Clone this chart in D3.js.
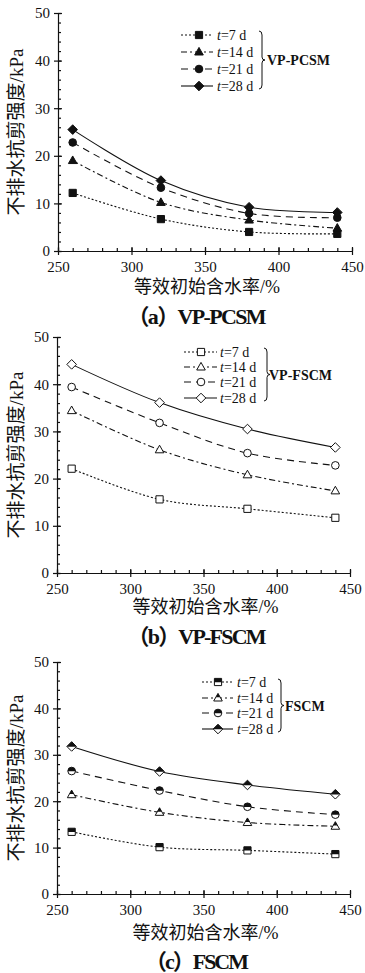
<!DOCTYPE html>
<html>
<head>
  <meta charset="utf-8">
  <title>Undrained shear strength vs water content</title>
  <style>
    body { margin: 0; background: #fff; }
    text { fill: #111; }
  </style>
</head>
<body>
  <div id="viz"></div>
  <script src="https://d3js.org/d3.v7.min.js"></script>
  <script>
    // equivalent initial water content (%)
    const waterContent = [260, 320, 380, 440];
    const ageLabels = ['7', '14', '21', '28'];
    const xTicks = [250, 300, 350, 400, 450];
    const yTicks = [0, 10, 20, 30, 40, 50];

    // (a) VP-PCSM, undrained shear strength kPa
    const pcsm7 = [12.2, 6.7, 4.0, 3.6];
    const pcsm14 = [19.0, 10.2, 6.5, 4.8];
    const pcsm21 = [22.8, 13.3, 7.9, 7.0];
    const pcsm28 = [25.5, 14.8, 9.2, 8.1];

    // (b) VP-FSCM
    const vfscm7 = [22.1, 15.6, 13.6, 11.7];
    const vfscm14 = [34.4, 26.1, 20.8, 17.4];
    const vfscm21 = [39.4, 31.8, 25.4, 22.8];
    const vfscm28 = [44.2, 36.1, 30.5, 26.6];

    // (c) FSCM
    const fscm7 = [13.4, 10.1, 9.4, 8.6];
    const fscm14 = [21.4, 17.6, 15.4, 14.6];
    const fscm21 = [26.5, 22.3, 18.8, 17.1];
    const fscm28 = [31.8, 26.4, 23.5, 21.5];

    const W = 365, H = 973;
    const serif = '"Liberation Serif", "DejaVu Serif", serif';
    const cjk = '"Liberation Serif", "Noto Sans CJK SC", sans-serif';

    const dashes = ['2,2', '6,3,2,3', '7,5', null];

    // marker outlines, centred on 0,0
    const shapes = [
      'M-3.6,-3.6H3.6V3.6H-3.6Z',
      'M0,-4.6L4.3,3H-4.3Z',
      d3.symbol().type(d3.symbolCircle).size(46)(),
      'M0,-4.8L4.8,0L0,4.8L-4.8,0Z'
    ];

    const svg = d3.select('#viz').append('svg')
      .attr('width', W).attr('height', H);

    svg.append('defs').append('clipPath')
      .attr('id', 'topHalf')
      .attr('clipPathUnits', 'objectBoundingBox')
      .append('rect').attr('x', -0.1).attr('y', -0.1).attr('width', 1.2).attr('height', 0.62);

    const panels = [
      { series: [pcsm7, pcsm14, pcsm21, pcsm28], fill: 'full', group: 'VP-PCSM', caption: '（a）VP-PCSM', capW: 139,
        x0: 58, x1: 352, y0: 13, y1: 251, titleY: 287, capY: 317,
        leg: { l0: 181, l1: 213, m: 199, t: 217, rows: [35, 52, 69, 86], bx: 259, by0: 31, by1: 89, gx: 267 } },
      { series: [vfscm7, vfscm14, vfscm21, vfscm28], fill: 'open', group: 'VP-FSCM', caption: '（b）VP-FSCM', capW: 139,
        x0: 57, x1: 350, y0: 337, y1: 573, titleY: 607, capY: 637,
        leg: { l0: 184, l1: 217, m: 201, t: 220, rows: [352, 367, 382, 398], bx: 264, by0: 348, by1: 401, gx: 269 } },
      { series: [fscm7, fscm14, fscm21, fscm28], fill: 'half', group: 'FSCM', caption: '（c）FSCM', capW: 104,
        x0: 57, x1: 350, y0: 662, y1: 894, titleY: 933, capY: 962,
        leg: { l0: 202, l1: 233, m: 218, t: 237, rows: [682, 698, 713, 729], bx: 278, by0: 679, by1: 732, gx: 285 } }
    ];

    function marker(g, i, fill, cx, cy) {
      const p = shapes[i];
      const m = g.append('g').attr('transform', `translate(${cx},${cy})`);
      if (fill === 'half') {
        m.append('path').attr('d', p).attr('fill', '#fff');
        m.append('path').attr('d', p).attr('fill', '#111').attr('clip-path', 'url(#topHalf)');
        m.append('path').attr('d', p).attr('fill', 'none').attr('stroke', '#111').attr('stroke-width', 1);
      } else {
        m.append('path').attr('d', p)
          .attr('fill', fill === 'full' ? '#111' : '#fff')
          .attr('stroke', '#111').attr('stroke-width', 1);
      }
    }

    function drawPanel(cfg) {
      const x = d3.scaleLinear().domain([250, 450]).range([cfg.x0, cfg.x1]);
      const y = d3.scaleLinear().domain([0, 50]).range([cfg.y1, cfg.y0]);
      const g = svg.append('g');

      // minor ticks
      g.append('g').attr('transform', `translate(0,${cfg.y1})`)
        .call(d3.axisBottom(x).tickValues(d3.range(250, 451, 10)).tickSize(-3).tickFormat(''))
        .call(a => a.select('.domain').remove());
      g.append('g').attr('transform', `translate(${cfg.x0},0)`)
        .call(d3.axisLeft(y).tickValues(d3.range(0, 51, 2)).tickSize(-3).tickFormat(''))
        .call(a => a.select('.domain').remove());

      // major ticks + labels
      const xa = g.append('g').attr('transform', `translate(0,${cfg.y1})`)
        .call(d3.axisBottom(x).tickValues(xTicks).tickSize(4).tickSizeOuter(0).tickPadding(6));
      xa.selectAll('.tick line').attr('y1', -4);
      const ya = g.append('g').attr('transform', `translate(${cfg.x0},0)`)
        .call(d3.axisLeft(y).tickValues(yTicks).tickSize(4).tickSizeOuter(0).tickPadding(4));
      ya.selectAll('.tick line').attr('x1', 4);
      g.selectAll('.domain, .tick line').attr('stroke', '#111').attr('stroke-width', 1.2);
      g.selectAll('.tick text').attr('font-family', serif).attr('font-size', 15).attr('fill', '#111');

      // axis titles
      g.append('text')
        .attr('transform', `translate(23,${(cfg.y0 + cfg.y1) / 2}) rotate(-90)`)
        .attr('text-anchor', 'middle')
        .attr('font-family', cjk).attr('font-size', 19)
        .text('不排水抗剪强度/kPa');
      g.append('text')
        .attr('x', (cfg.x0 + cfg.x1) / 2 + 2).attr('y', cfg.titleY + 6)
        .attr('text-anchor', 'middle')
        .attr('font-family', cjk).attr('font-size', 18)
        .text('等效初始含水率/%');
      g.append('text')
        .attr('x', 197 - cfg.capW / 2).attr('y', cfg.capY + 7)
        .attr('textLength', cfg.capW).attr('lengthAdjust', 'spacing')
        .attr('font-family', cjk).attr('font-size', 22).attr('font-weight', 'bold')
        .text(cfg.caption);

      // series
      const line = d3.line()
        .x((d, i) => x(waterContent[i]))
        .y(d => y(d))
        .curve(d3.curveCatmullRom.alpha(0.5));
      cfg.series.forEach((s, i) => {
        g.append('path').datum(s)
          .attr('d', line)
          .attr('fill', 'none').attr('stroke', '#111').attr('stroke-width', 1.1)
          .attr('stroke-dasharray', dashes[i]);
      });
      cfg.series.forEach((s, i) => {
        s.forEach((v, j) => marker(g, i, cfg.fill, x(waterContent[j]), y(v)));
      });

      // legend
      const L = cfg.leg;
      ageLabels.forEach((a, i) => {
        const ry = L.rows[i];
        g.append('line').attr('x1', L.l0).attr('x2', L.l1).attr('y1', ry).attr('y2', ry)
          .attr('stroke', '#111').attr('stroke-width', 1.1).attr('stroke-dasharray', dashes[i]);
        marker(g, i, cfg.fill, L.m, ry);
        const t = g.append('text').attr('x', L.t).attr('y', ry + 5)
          .attr('font-family', serif).attr('font-size', 14);
        t.append('tspan').attr('font-style', 'italic').text('t');
        t.append('tspan').text(`=${a} d`);
      });

      // brace
      const bx = L.bx, b0 = L.by0, b1 = L.by1, bm = (b0 + b1) / 2;
      g.append('path')
        .attr('d', `M${bx},${b0} Q${bx + 3},${b0} ${bx + 3},${b0 + 4} L${bx + 3},${bm - 3} Q${bx + 3},${bm} ${bx + 6},${bm}` +
          ` Q${bx + 3},${bm} ${bx + 3},${bm + 3} L${bx + 3},${b1 - 4} Q${bx + 3},${b1} ${bx},${b1}`)
        .attr('fill', 'none').attr('stroke', '#111').attr('stroke-width', 1);
      g.append('text').attr('x', L.gx).attr('y', bm + 5)
        .attr('font-family', serif).attr('font-size', 14).attr('font-weight', 'bold')
        .text(cfg.group);
    }

    panels.forEach(drawPanel);
  </script>
</body>
</html>
